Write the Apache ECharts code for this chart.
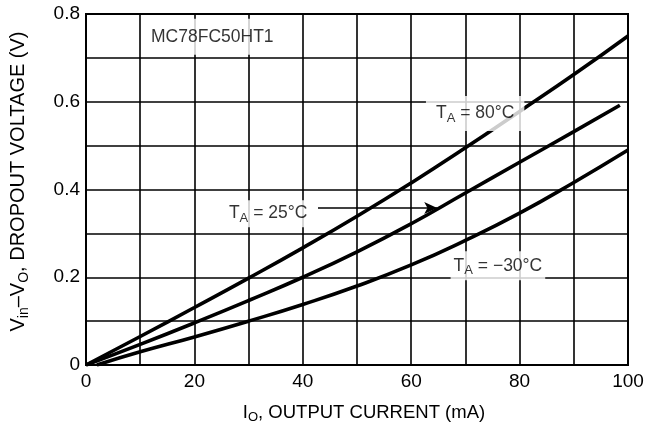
<!DOCTYPE html>
<html><head><meta charset="utf-8">
<script src="https://cdn.jsdelivr.net/npm/echarts@6/dist/echarts.min.js"></script>
<style>html,body{margin:0;padding:0;background:#fff}#c{width:655px;height:435px}</style>
</head><body><div id="c"></div>
<script>
const currentMA = [0, 10, 20, 30, 40, 50, 60, 70, 80, 90, 100];
const v80 = [0, 0.065, 0.131, 0.198, 0.267, 0.339, 0.415, 0.495, 0.578, 0.662, 0.75];
const x25 = [0, 10, 20, 30, 40, 50, 60, 70, 80, 90, 98.5];
const v25 = [0, 0.047, 0.096, 0.147, 0.2, 0.258, 0.322, 0.392, 0.462, 0.532, 0.592];
const xm30 = [2, 10, 20, 30, 40, 50, 60, 70, 80, 90, 100];
const vm30 = [0, 0.03, 0.064, 0.1, 0.138, 0.18, 0.228, 0.284, 0.346, 0.416, 0.49];
const xTickLabels = ['0', '20', '40', '60', '80', '100'];
const yTickLabels = ['0', '0.2', '0.4', '0.6', '0.8'];
const partNumber = 'MC78FC50HT1';
const partPos = [23.3, 0.748];
const label80 = ['T', 'A', ' = 80°C'];
const label80Pos = [71.8, 0.573];
const label25 = ['T', 'A', ' = 25°C'];
const label25Pos = [33.6, 0.345];
const arrow25 = [[42.8, 0.358], [64.8, 0.358]];
const labelM30 = ['T', 'A', ' = −30°C'];
const labelM30Pos = [76.0, 0.226];

const FONT = '"Liberation Sans", Arial, sans-serif';
const pair = (xs, ys) => xs.map((x, i) => [x, ys[i]]);
const mkRich = (size) => ({
  t: { fontFamily: FONT, fontSize: size, color: '#000' },
  s: { fontFamily: FONT, fontSize: Math.round(size * 0.72), color: '#000', padding: [Math.round(size * 0.55), 0, 0, 0] }
});
const tLabel = (arr) => '{t|' + arr[0] + '}{s|' + arr[1] + '}{t|' + arr[2] + '}';
const ann = (pos, text, pad) => ({
  value: pos,
  label: { show: true, position: 'inside', formatter: text, rich: mkRich(17.5),
    backgroundColor: '#fff', padding: pad }
});
const lineStyle = { color: '#000', width: 3.6 };

const chart = echarts.init(document.getElementById('c'), null, { renderer: 'canvas' });
chart.setOption({
  animation: false,
  backgroundColor: '#fff',
  grid: { left: 86, right: 27, top: 14, bottom: 70, show: true, borderColor: '#000', borderWidth: 2, backgroundColor: 'transparent' },
  xAxis: {
    type: 'value', min: 0, max: 100, interval: 10,
    name: '{t|I}{s|O}{t|, OUTPUT CURRENT (mA)}',
    nameLocation: 'middle', nameGap: 36,
    nameTextStyle: { rich: mkRich(18.5), padding: [0, 0, 0, 14] },
    axisLine: { show: true, lineStyle: { color: '#000', width: 2 } },
    axisTick: { show: false },
    splitLine: { show: true, lineStyle: { color: '#000', width: 1.6 } },
    axisLabel: {
      margin: 7, color: '#000', fontFamily: FONT, fontSize: 19,
      formatter: v => { const i = xTickLabels.indexOf(String(Math.round(v))); return i >= 0 ? xTickLabels[i] : ''; }
    }
  },
  yAxis: {
    type: 'value', min: 0, max: 0.8, interval: 0.1,
    name: '{t|V}{s|in}{t|–V}{s|O}{t|, DROPOUT VOLTAGE (V)}',
    nameLocation: 'middle', nameGap: 55, nameRotate: 90,
    nameTextStyle: { rich: mkRich(20), padding: [0, 0, 0, 16] },
    axisLine: { show: true, lineStyle: { color: '#000', width: 2 } },
    axisTick: { show: false },
    splitLine: { show: true, lineStyle: { color: '#000', width: 1.6 } },
    axisLabel: {
      margin: 6, color: '#000', fontFamily: FONT, fontSize: 19,
      formatter: v => { const k = Math.round(v * 10); return k % 2 === 0 ? yTickLabels[k / 2] : ''; }
    }
  },
  series: [
    { type: 'line', data: pair(currentMA, v80), smooth: 0.5, symbol: 'none', lineStyle: lineStyle, z: 3 },
    { type: 'line', data: pair(x25, v25), smooth: 0.5, symbol: 'none', lineStyle: lineStyle, z: 3,
      markLine: { silent: true, symbol: ['none', 'arrow'], symbolSize: [9, 13],
        lineStyle: { color: '#000', width: 1.6, type: 'solid' }, label: { show: false },
        data: [[ { coord: arrow25[0] }, { coord: arrow25[1] } ]] } },
    { type: 'line', data: pair(xm30, vm30), smooth: 0.5, symbol: 'none', lineStyle: lineStyle, z: 3 },
    { type: 'scatter', symbolSize: 1, itemStyle: { color: 'rgba(0,0,0,0)' }, z: 5, silent: true,
      data: [
        ann(partPos, '{t|' + partNumber + '}', [9, 4, 9, 4]),
        ann(label80Pos, tLabel(label80), [6, 10, 6, 10]),
        ann(label25Pos, tLabel(label25), [2, 5, 2, 5]),
        ann(labelM30Pos, tLabel(labelM30), [3, 3, 3, 3])
      ] }
  ]
});
</script></body></html>
